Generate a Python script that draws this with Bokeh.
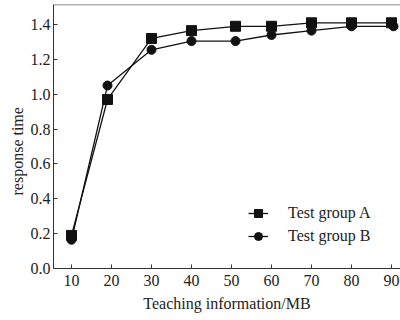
from bokeh.plotting import figure
from bokeh.models import Range1d, Legend, LegendItem, Span, NumeralTickFormatter, FixedTicker, Title
from bokeh.embed import file_html
from bokeh.resources import INLINE

x_a = [10, 19, 30, 40, 51, 60, 70, 80, 90]
y_a = [0.19, 0.97, 1.32, 1.365, 1.39, 1.39, 1.41, 1.41, 1.41]
x_b = [10, 19, 30, 40, 51, 60, 70, 80, 90.5]
y_b = [0.165, 1.05, 1.255, 1.305, 1.305, 1.34, 1.365, 1.39, 1.39]
x_ticks = [10, 20, 30, 40, 50, 60, 70, 80, 90]
y_ticks = [0.0, 0.2, 0.4, 0.6, 0.8, 1.0, 1.2, 1.4]
labels = ["Test group A", "Test group B"]
x_title = "Teaching information/MB"
y_title = "response time"

FONT = "Liberation Serif"
TXT = "#222222"

p = figure(width=400, height=320, output_backend="svg", toolbar_location=None,
           x_range=Range1d(5.5, 92.25), y_range=Range1d(0, 1.515),
           min_border_left=53, min_border_right=0, min_border_top=4, min_border_bottom=52)
p.outline_line_color = None
p.grid.visible = False
p.background_fill_color = "white"

ra = p.line(x_a, y_a, line_color="#111111", line_width=1.3)
ma = p.scatter(x_a, y_a, marker="square", size=10, fill_color="#111111", line_color="#111111")
rb = p.line(x_b, y_b, line_color="#111111", line_width=1.3)
mb = p.scatter(x_b, y_b, marker="circle", size=9, fill_color="#111111", line_color="#111111")

p.add_layout(Span(location=1.515, dimension="width", line_color="#666666", line_width=1.5))

for ax in (p.xaxis, p.yaxis):
    ax.major_tick_in = 4
    ax.major_tick_out = 0
    ax.minor_tick_line_color = None
    ax.axis_line_color = "#333333"
    ax.major_tick_line_color = "#333333"
    ax.major_label_text_font = FONT
    ax.major_label_text_font_size = "16px"
    ax.major_label_text_color = TXT
    ax.axis_label_text_font = FONT
    ax.axis_label_text_font_size = "16px"
    ax.axis_label_text_font_style = "normal"
    ax.axis_label_text_color = TXT

p.xaxis.ticker = FixedTicker(ticks=x_ticks)
p.yaxis.ticker = FixedTicker(ticks=y_ticks)
p.yaxis.formatter = NumeralTickFormatter(format="0.0")
p.xaxis.axis_label = x_title
p.xaxis.major_label_standoff = 6
p.yaxis.major_label_standoff = 3
p.xaxis.axis_label_standoff = 6

p.add_layout(Title(text=y_title, align="left", offset=73, standoff=4,
                   text_font=FONT, text_font_size="16px", text_font_style="normal",
                   text_color="#222222"), "left")

legend = Legend(items=[LegendItem(label=labels[0], renderers=[ra, ma]),
                       LegendItem(label=labels[1], renderers=[rb, mb])],
                location=(195, 22), padding=0, margin=0, spacing=3,
                glyph_width=20, glyph_height=20, label_standoff=20,
                border_line_color=None, background_fill_alpha=0,
                label_text_font=FONT, label_text_font_size="16px", label_text_color=TXT)
p.add_layout(legend, "center")

open("out.html", "w").write(file_html(p, INLINE))
